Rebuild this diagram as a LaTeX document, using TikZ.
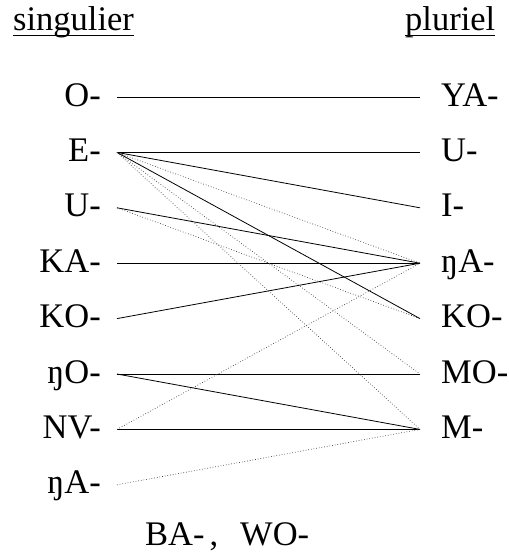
\documentclass[tikz,border=0pt]{standalone}
\usepackage{fontspec}
\setmainfont{Liberation Serif}
\usetikzlibrary{positioning}
\tikzset{
  sgl/.style={anchor=base east,inner sep=0pt,font=\fontsize{34.5}{40}\selectfont},
  plr/.style={anchor=base west,inner sep=0pt,font=\fontsize{34.5}{40}\selectfont},
  lien/.style={line width=0.8pt},
  lienpt/.style={line width=0.7pt,dotted,black!75},
}
\begin{document}
\begin{tikzpicture}[x=1pt,y=-1pt]
  \useasboundingbox (0,0) rectangle (509,558);
  % En-tetes
  \node[plr] (sing) at (13,30) {singulier};
  \node[plr] (plur) at (405,30) {pluriel};
  \draw[line width=0.8pt] ([yshift=-5pt]sing.base west) -- ([yshift=-5pt]sing.base east);
  \draw[line width=0.8pt] ([yshift=-5pt]plur.base west) -- ([yshift=-5pt]plur.base east);
  % Classes du singulier
  \foreach \t [count=\i] in {O-,E-,U-,KA-,KO-,ŋO-,NV-,ŋA-}{
    \node[sgl] (s\i) at (101,{106+55.4*(\i-1)}) {\t};
    \coordinate (a\i) at (117,{97+55.4*(\i-1)});
  }
  % Classes du pluriel
  \foreach \t [count=\i] in {YA-,U-,I-,ŋA-,KO-,MO-,M-}{
    \node[plr] (p\i) at (441,{106+55.4*(\i-1)}) {\t};
    \coordinate (b\i) at (420,{97+55.4*(\i-1)});
  }
  \node[plr] (autres) at (145,545) {BA-\hspace{5pt},\hspace{22pt}WO-};
  % Appariements reguliers
  \foreach \u/\v in {1/1,2/2,2/3,2/5,3/4,4/4,5/4,6/6,6/7,7/7}
    \draw[lien] (a\u) -- (b\v);
  % Appariements secondaires
  \foreach \u/\v in {2/4,2/6,2/7,3/5,7/4,8/7}
    \draw[lienpt] (a\u) -- (b\v);
\end{tikzpicture}
\end{document}
